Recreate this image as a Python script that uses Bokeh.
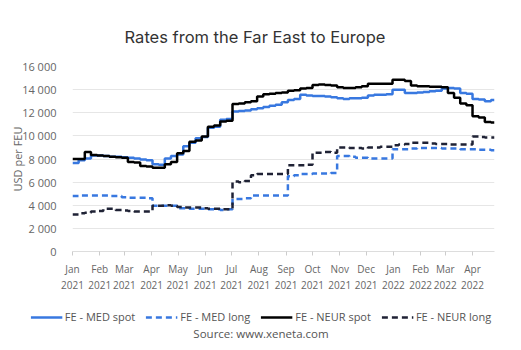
import pandas as pd
from bokeh.plotting import figure
from bokeh.layouts import column, row
from bokeh.models import FixedTicker, Legend, LegendItem, Label, ColumnDataSource
from bokeh.embed import file_html
from bokeh.resources import INLINE

# ---------------- data ----------------
start_date = "2021-01-01"
end_date = "2022-04-26"
weeks = pd.date_range(start_date, periods=69, freq="7D")

med_spot = [7650, 7900, 8050, 8300, 8300, 8250, 8200, 8200, 8150, 8100,
            8050, 7950, 7900, 7550, 7500, 8050, 8250, 8400, 9100, 9400,
            9800, 9900, 10700, 10800, 11400, 11450, 12100, 12150, 12200, 12300,
            12400, 12500, 12600, 12700, 12900, 13100, 13200, 13550, 13500, 13450,
            13450, 13400, 13350, 13250, 13200, 13250, 13250, 13300, 13500, 13550,
            13550, 13600, 14000, 14000, 13700, 13700, 13750, 13800, 13850, 13900,
            14100, 14150, 14100, 13700, 13650, 13200, 13150, 13000, 13100]

med_long = [4800, 4850, 4850, 4850, 4850, 4850, 4800, 4800, 4700, 4650,
            4650, 4650, 4600, 3950, 3950, 3950, 3950, 3750, 3750, 3700,
            3700, 3700, 3650, 3650, 3600, 3650, 4550, 4550, 4600, 4850,
            4850, 4850, 4850, 4850, 4850, 6500, 6600, 6700, 6700, 6750,
            6750, 6750, 6800, 8250, 8250, 8200, 8100, 8100, 8050, 8050,
            8050, 8050, 8850, 8850, 8850, 8900, 8950, 8950, 8950, 8950,
            8900, 8900, 8900, 8850, 8850, 8850, 8800, 8800, 8750]

neur_spot = [8000, 8000, 8600, 8350, 8300, 8250, 8200, 8150, 8100, 7750,
             7700, 7400, 7350, 7250, 7250, 7550, 7750, 8500, 8700, 9500,
             9600, 9950, 10800, 10900, 11250, 11300, 12750, 12800, 12900, 13000,
             13400, 13600, 13650, 13700, 13750, 13900, 13950, 14100, 14150, 14400,
             14450, 14400, 14350, 14200, 14150, 14150, 14200, 14300, 14500, 14500,
             14500, 14500, 14850, 14850, 14750, 14350, 14300, 14300, 14250, 14250,
             14200, 13700, 13300, 12800, 12650, 11700, 11600, 11200, 11150]

neur_long = [3200, 3300, 3350, 3450, 3500, 3700, 3700, 3600, 3550, 3500,
             3450, 3450, 3450, 3950, 3950, 4000, 3950, 3850, 3800, 3800,
             3800, 3750, 3700, 3700, 3650, 3650, 6050, 6000, 6100, 6600,
             6700, 6700, 6700, 6700, 6700, 7450, 7450, 7450, 7500, 8550,
             8550, 8600, 8550, 9000, 9000, 8950, 8950, 8900, 9000, 9000,
             9050, 9050, 9200, 9250, 9300, 9400, 9400, 9400, 9350, 9300,
             9300, 9250, 9250, 9250, 9250, 9950, 9900, 9850, 9850]

month_starts = ["2021-01-01", "2021-02-01", "2021-03-01", "2021-04-01", "2021-05-01",
                "2021-06-01", "2021-07-01", "2021-08-01", "2021-09-01", "2021-10-01",
                "2021-11-01", "2021-12-01", "2022-01-01", "2022-02-01", "2022-03-01",
                "2022-04-01"]
month_labels = ["Jan\n2021", "Feb\n2021", "Mar\n2021", "Apr\n2021", "May\n2021",
                "Jun\n2021", "Jul\n2021", "Aug\n2021", "Sep\n2021", "Oct\n2021",
                "Nov\n2021", "Dec\n2021", "Jan\n2022", "Feb\n2022", "Mar\n2022",
                "Apr\n2022"]
y_ticks = [0, 2000, 4000, 6000, 8000, 10000, 12000, 14000, 16000]
y_labels = ["0", "2 000", "4 000", "6 000", "8 000", "10 000", "12 000", "14 000", "16 000"]

series_labels = ["FE - MED spot", "FE - MED long", "FE - NEUR spot", "FE - NEUR long"]
title_text = "Rates from the Far East to Europe"
source_text = "Source: www.xeneta.com"

# ---------------- build ----------------
t0 = pd.Timestamp(start_date)
t_end = pd.Timestamp(end_date)
xs = [(d - t0).days for d in weeks] + [(t_end - t0).days]

def ext(vals):
    return list(vals) + [vals[-1]]

src = ColumnDataSource(dict(x=xs, med_spot=ext(med_spot), med_long=ext(med_long),
                            neur_spot=ext(neur_spot), neur_long=ext(neur_long)))

FONT = "Open Sans"
BLUE = "#3878e0"
NAVY = "#1f2235"
styles = [dict(line_color=BLUE, line_width=2.5),
          dict(line_color=BLUE, line_width=2.5, line_dash="6 4"),
          dict(line_color="#000000", line_width=2.5),
          dict(line_color=NAVY, line_width=2.5, line_dash="6 4")]
cols = ["med_spot", "med_long", "neur_spot", "neur_long"]

W = 521
TOP_H, MAIN_H, BOT_H = 56, 239, 55

def strip(h):
    f = figure(width=W, height=h, output_backend="svg", toolbar_location=None,
               x_range=(0, W), y_range=(0, h), x_axis_location=None, y_axis_location=None,
               min_border_left=0, min_border_right=0, min_border_top=0, min_border_bottom=0)
    f.outline_line_color = None
    f.grid.grid_line_color = None
    return f

# ---- title strip ----
pt = strip(TOP_H)
pt.add_layout(Label(x=W / 2 - 6, y=TOP_H - 36, text=title_text, text_align="center",
                    text_baseline="middle", text_font="Inter", text_font_size="16.5px",
                    text_color="#333333"))

# ---- main chart ----
p = figure(width=W, height=MAIN_H, output_backend="svg", toolbar_location=None,
           x_range=(0, (t_end - t0).days), y_range=(0, 16000),
           min_border_left=72, min_border_right=27, min_border_top=10,
           min_border_bottom=41)
p.outline_line_color = None

for c, st in zip(cols, styles):
    p.step("x", c, source=src, mode="after", **st)

tick_days = [(pd.Timestamp(m) - t0).days for m in month_starts]
p.xaxis.ticker = FixedTicker(ticks=tick_days)
p.xaxis.major_label_overrides = {d: l for d, l in zip(tick_days, month_labels)}
p.xaxis.axis_line_color = "#dddddd"
p.xaxis.major_tick_line_color = "#cccccc"
p.xaxis.major_tick_out = 4
p.xaxis.major_tick_in = 0
p.xaxis.minor_tick_line_color = None
p.xaxis.major_label_text_font = FONT
p.xaxis.major_label_text_font_size = "10px"
p.xaxis.major_label_text_color = "#666666"
p.xaxis.major_label_standoff = 6
p.xgrid.grid_line_color = None

p.yaxis.ticker = FixedTicker(ticks=y_ticks)
p.yaxis.major_label_overrides = {v: l for v, l in zip(y_ticks, y_labels)}
p.yaxis.axis_line_color = None
p.yaxis.major_tick_line_color = None
p.yaxis.minor_tick_line_color = None
p.yaxis.major_label_text_font = FONT
p.yaxis.major_label_text_font_size = "11px"
p.yaxis.major_label_text_color = "#666666"
p.yaxis.major_label_standoff = 10
p.yaxis.axis_label = "USD per FEU"
p.yaxis.axis_label_text_font = FONT
p.yaxis.axis_label_text_font_size = "11px"
p.yaxis.axis_label_text_font_style = "normal"
p.yaxis.axis_label_text_color = "#666666"
p.yaxis.axis_label_standoff = -6
p.ygrid.grid_line_color = "#e6e6e6"
p.ygrid.grid_line_width = 1

# ---- legend + source strip ----
pb = strip(BOT_H)
items = []
for lab, st in zip(series_labels, styles):
    r = pb.line(x=[-100, -90], y=[-100, -100], **st)
    items.append(LegendItem(label=lab, renderers=[r]))
legend = Legend(items=items, orientation="horizontal", location="top",
                border_line_color=None, background_fill_alpha=0,
                label_text_font=FONT, label_text_font_size="11px",
                label_text_color="#555555", glyph_width=32, glyph_height=14,
                label_standoff=3, spacing=10, padding=0, margin=14,
                label_height=14)
pb.add_layout(legend, "center")
pb.add_layout(Label(x=W / 2, y=BOT_H - 38, text=source_text, text_align="center",
                    text_baseline="middle", text_font=FONT, text_font_size="11.5px",
                    text_color="#555555"))

layout = column(row(pt), p, row(pb), spacing=0)
open("out.html", "w").write(file_html(layout, INLINE))
